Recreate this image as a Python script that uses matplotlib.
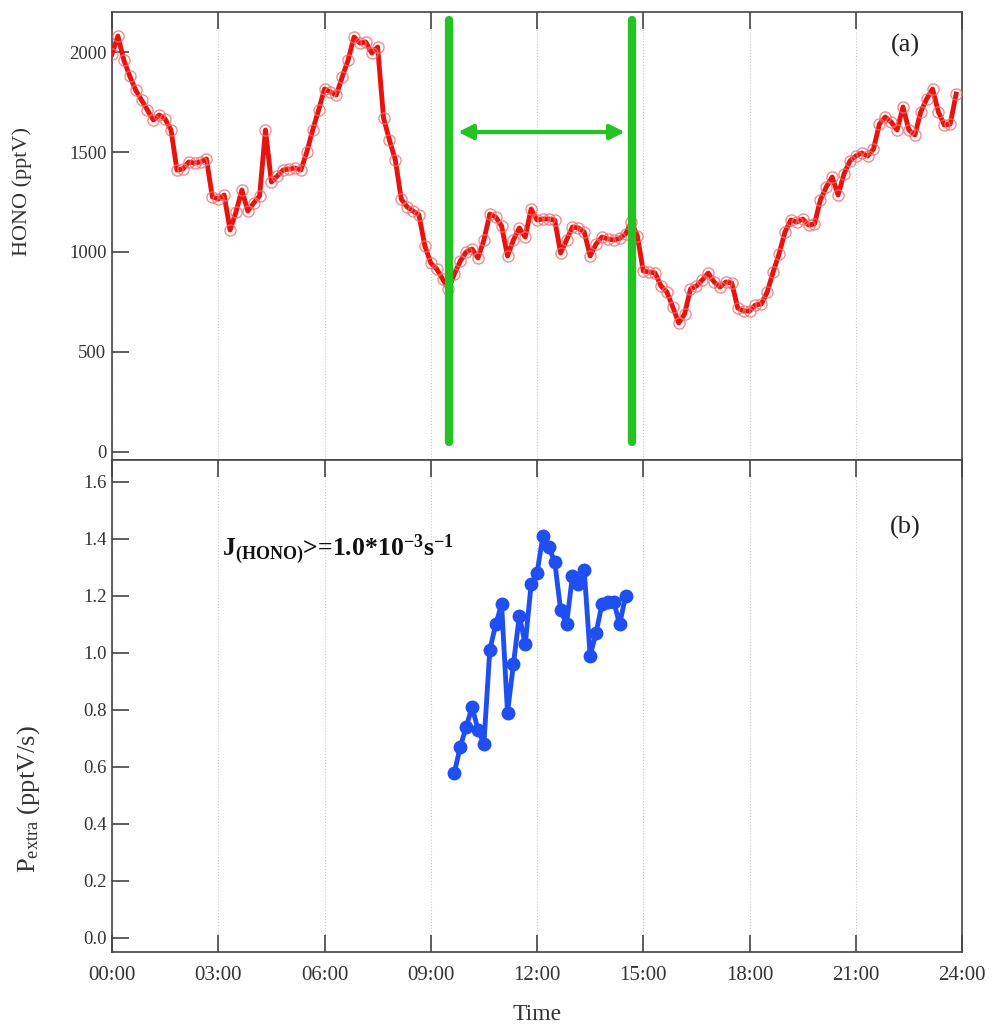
import numpy as np
import matplotlib

matplotlib.use("Agg")
import matplotlib.pyplot as plt

# HONO, 10-min resolution from 00:00 to 23:50 (pptV)
hono = [
    1990, 2080, 1960, 1880, 1810, 1760,
    1710, 1660, 1685, 1665, 1610, 1410,
    1415, 1450, 1445, 1450, 1465, 1275,
    1265, 1285, 1110, 1200, 1310, 1205,
    1245, 1280, 1610, 1350, 1380, 1410,
    1415, 1420, 1410, 1500, 1610, 1710,
    1815, 1800, 1785, 1875, 1960, 2075,
    2045, 2050, 1995, 2025, 1670, 1560,
    1460, 1265, 1225, 1205, 1185, 1030,
    945, 915, 865, 815, 890, 955,
    1000, 1015, 970, 1060, 1190, 1175,
    1130, 980, 1060, 1120, 1075, 1215,
    1160, 1165, 1165, 1160, 995, 1060,
    1125, 1120, 1100, 980, 1040, 1075,
    1065, 1060, 1068, 1090, 1150, 1080,
    905, 900, 895, 830, 800, 725,
    645, 690, 815, 830, 860, 895,
    850, 825, 850, 845, 720, 705,
    705, 735, 740, 800, 900, 990,
    1100, 1160, 1150, 1165, 1135, 1140,
    1260, 1325, 1375, 1285, 1390, 1455,
    1480, 1495, 1480, 1515, 1640, 1675,
    1650, 1610, 1725, 1610, 1585, 1700,
    1765, 1815, 1700, 1635, 1640, 1790,
]
hono_hours = np.arange(len(hono)) / 6.0

# extra HONO source, 09:40 to 14:30 (pptV/s)
pextra = [
    0.58, 0.67, 0.74, 0.81, 0.73, 0.68,
    1.01, 1.10, 1.17, 0.79, 0.96, 1.13,
    1.03, 1.24, 1.28, 1.41, 1.37, 1.32,
    1.15, 1.10, 1.27, 1.24, 1.29, 0.99,
    1.07, 1.17, 1.18, 1.18, 1.10, 1.20,
]
pextra_hours = 9 + 40 / 60 + np.arange(len(pextra)) / 6.0

window = [9.52, 14.68]
tick_hours = list(range(0, 25, 3))
tick_labels = [f"{h:02d}:00" for h in tick_hours]

plt.rcParams["font.family"] = ["Liberation Serif", "DejaVu Serif"]
plt.rcParams["mathtext.fontset"] = "custom"
plt.rcParams["mathtext.rm"] = "Liberation Serif"
plt.rcParams["mathtext.it"] = "Liberation Serif:italic"
plt.rcParams["mathtext.bf"] = "Liberation Serif:bold"

fig = plt.figure(figsize=(9.92, 10.36), dpi=100)
ax1 = fig.add_axes([0.1129, 0.556, 0.8569, 0.4324])
ax2 = fig.add_axes([0.1129, 0.0811, 0.8569, 0.4749])

spine_col = "#444444"
for ax in (ax1, ax2):
    ax.set_xlim(0, 24)
    ax.set_xticks(tick_hours)
    ax.grid(axis="x", color="#c8c8c8", linestyle=":", linewidth=0.8)
    ax.set_axisbelow(True)
    for sp in ax.spines.values():
        sp.set_color(spine_col)
        sp.set_linewidth(1.2)
    ax.tick_params(axis="both", direction="in", length=12, width=1.2,
                   color=spine_col, labelcolor="#333333")
    ax.tick_params(axis="y", right=False, pad=4, labelsize=13.5)
    ax.tick_params(axis="x", labelsize=15)

# top panel
ax1.plot(hono_hours, hono, color="#e8120f", linewidth=3.5, zorder=3)
ax1.plot(hono_hours, hono, linestyle="none", marker="o", markersize=8,
         markerfacecolor="none", markeredgecolor="#f07070", markeredgewidth=1.0,
         alpha=0.8, zorder=4)
ax1.set_ylim(-40, 2200)
ax1.set_yticks([0, 500, 1000, 1500, 2000])
ax1.tick_params(axis="x", top=True, bottom=False, labelbottom=False)
ax1.set_ylabel("HONO (pptV)", fontsize=16, color="#333333")
ax1.yaxis.set_label_coords(-0.094, 0.60)
for xv in window:
    ax1.plot([xv, xv], [50, 2160], color="#22c322", linewidth=6,
             solid_capstyle="round", zorder=5)
ax1.annotate("", xy=(window[0] + 0.25, 1600), xytext=(window[1] - 0.2, 1600),
             arrowprops=dict(arrowstyle="<|-|>", color="#22c322", lw=3,
                             mutation_scale=22, shrinkA=0, shrinkB=0), zorder=5)
ax1.text(22.4, 2035, "(a)", fontsize=19, ha="center", va="center", color="#222222")

# bottom panel
ax2.plot(pextra_hours, pextra, color="#1f4ff0", linewidth=3.5, marker="o",
         markersize=9, zorder=3)
ax2.set_ylim(-0.05, 1.677)
ax2.set_yticks(np.arange(0, 1.61, 0.2))
ax2.set_yticklabels([f"{v:.1f}" for v in np.arange(0, 1.61, 0.2)])
ax2.set_xticklabels(tick_labels)
ax2.tick_params(axis="x", top=True, bottom=True, pad=10)
ax2.set_ylabel(r"P$_{\rm extra}$ (pptV/s)", fontsize=19, color="#333333")
ax2.yaxis.set_label_coords(-0.082, 0.31)
ax2.set_xlabel("Time", fontsize=17, color="#333333", labelpad=14)
ax2.text(3.1, 1.36,
         r"J$_{\mathbf{(HONO)}}$>=1.0*10$^{\mathbf{-3}}$s$^{\mathbf{-1}}$",
         fontsize=18.5, fontweight="bold", ha="left", va="center", color="#111111")
ax2.text(22.4, 1.44, "(b)", fontsize=19, ha="center", va="center", color="#222222")

fig.savefig("out.png", dpi=100)
